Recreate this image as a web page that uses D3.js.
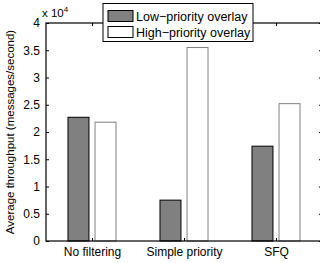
<!DOCTYPE html>
<html><head><meta charset="utf-8">
<script src="https://cdn.jsdelivr.net/npm/d3@7"></script>
<style>body{margin:0;background:#fff}svg{display:block;font-family:"Liberation Sans",Arial,sans-serif}</style>
</head><body><svg id="c" width="320" height="263"></svg>
<script>
const categories = ["No filtering", "Simple priority", "SFQ"];
const series = ["Low−priority overlay", "High−priority overlay"];
const lowValues = [2.27, 0.75, 1.74];
const highValues = [2.18, 3.55, 2.52];
const yTicks = [0, 0.5, 1, 1.5, 2, 2.5, 3, 3.5, 4];
const yTickLabels = ["0", "0.5", "1", "1.5", "2", "2.5", "3", "3.5", "4"];

const svg = d3.select("#c");
const L = 46, R = 322, T = 23, B = 241;
const x = d3.scaleLinear().domain([0.5, 3.5]).range([L, R]);
const y = d3.scaleLinear().domain([0, 4]).range([B, T]);
const bw = x(0.228) - x(0);
const off = x(0.147) - x(0);

const fills = ["#808080", "#ffffff"];
const strokes = ["#000000", "#808080"];
[lowValues, highValues].forEach((vals, s) => {
  svg.append("g").selectAll("rect").data(vals).join("rect")
    .attr("x", (d, i) => x(i + 1) + (s === 0 ? -off : off) - bw / 2)
    .attr("y", d => y(d))
    .attr("width", bw)
    .attr("height", d => y(0) - y(d))
    .attr("fill", fills[s]).attr("stroke", strokes[s]).attr("stroke-width", 1);
});

// box
svg.append("rect").attr("x", L).attr("y", T).attr("width", R - L).attr("height", B - T)
  .attr("fill", "none").attr("stroke", "#000").attr("stroke-width", 1.2);

// y axis
const yAxis = d3.axisLeft(y).tickValues(yTicks).tickFormat((d, i) => yTickLabels[i]).tickSizeInner(-3).tickSizeOuter(0).tickPadding(6);
const gy = svg.append("g").attr("transform", `translate(${L},0)`).call(yAxis);
gy.select(".domain").remove();
gy.selectAll("text").attr("font-size", 12).attr("fill", "#000");
const yAxisR = d3.axisRight(y).tickValues(yTicks).tickFormat("").tickSizeInner(-3).tickSizeOuter(0);
const gyr = svg.append("g").attr("transform", `translate(${R},0)`).call(yAxisR);
gyr.select(".domain").remove();

// x axis
const xAxis = d3.axisBottom(x).tickValues([1, 2, 3]).tickFormat((d, i) => categories[i]).tickSizeInner(-3).tickSizeOuter(0).tickPadding(6);
const gx = svg.append("g").attr("transform", `translate(0,${B})`).call(xAxis);
gx.select(".domain").remove();
gx.selectAll("text").attr("font-size", 12).attr("fill", "#000");
const xAxisT = d3.axisTop(x).tickValues([1, 2, 3]).tickFormat("").tickSizeInner(-3).tickSizeOuter(0);
const gxt = svg.append("g").attr("transform", `translate(0,${T})`).call(xAxisT);
gxt.select(".domain").remove();

// exponent
const ex = svg.append("text").attr("x", 42).attr("y", 17).attr("font-size", 11.5).text("x 10");
ex.append("tspan").attr("dy", -5).attr("font-size", 8).text("4");

// y label
svg.append("text").attr("transform", `translate(14,${(T + B) / 2}) rotate(-90)`)
  .attr("text-anchor", "middle").attr("font-size", 11.5).text("Average throughput (messages/second)");

// legend
const lg = svg.append("g");
lg.append("rect").attr("x", 103).attr("y", 3.5).attr("width", 150).attr("height", 38)
  .attr("fill", "#fff").attr("stroke", "#000").attr("stroke-width", 1);
series.forEach((name, s) => {
  const yy = 10.5 + s * 16;
  lg.append("rect").attr("x", 108).attr("y", yy).attr("width", 25).attr("height", 11)
    .attr("fill", fills[s]).attr("stroke", s === 0 ? "#000" : "#000").attr("stroke-width", 1);
  lg.append("text").attr("x", 136).attr("y", yy + 10).attr("font-size", 12.5).text(name);
});
</script></body></html>
